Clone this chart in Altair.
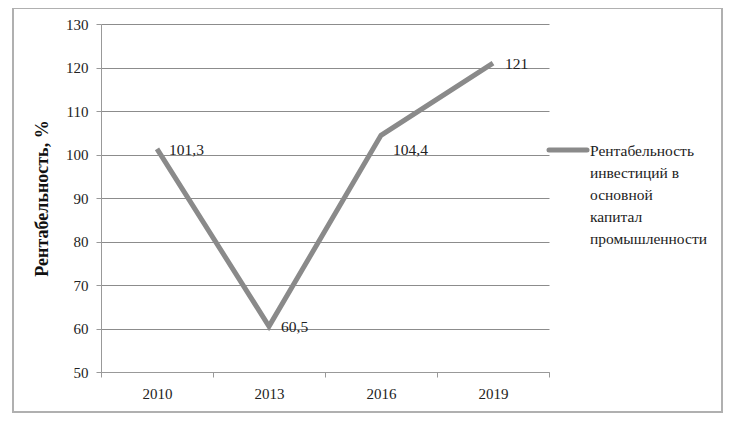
import altair as alt
import pandas as pd

years = ["2010", "2013", "2016", "2019"]
values = [101.3, 60.5, 104.4, 121.0]
labels = ["101,3", "60,5", "104,4", "121"]
series = "Рентабельность\nинвестиций в\nосновной\nкапитал\nпромышленности"

df = pd.DataFrame({"year": years, "value": values, "label": labels, "series": [series] * 4})
legend_df = pd.DataFrame({"series": [series]})

FONT = "'Liberation Serif', 'Times New Roman', serif"
GRAY = "#8a8a8a"

base = alt.Chart(df)

x = alt.X("year:N", sort=years, title=None,
          scale=alt.Scale(paddingInner=0, paddingOuter=0),
          axis=alt.Axis(labelAngle=0, tickBand="extent", labelPadding=9, tickSize=5,
                        domainColor="#999", tickColor="#999", grid=False))
y = alt.Y("value:Q", title="Рентабельность, %",
          scale=alt.Scale(domain=[50, 130], nice=False, zero=False),
          axis=alt.Axis(values=list(range(50, 131, 10)), tickSize=5, labelPadding=8,
                        titlePadding=14, titleFontWeight="bold", titleFontSize=18,
                        gridColor="#8c8c8c", domainColor="#999", tickColor="#999"))

line = base.mark_line(strokeWidth=5, strokeCap="butt", strokeJoin="miter", color=GRAY).encode(
    x=x, y=y, detail="series:N"
)

text_main = base.transform_filter(alt.datum.year != "2016").mark_text(
    align="left", baseline="middle", dx=12, dy=1, font=FONT, fontSize=15.5, color="#222"
).encode(x=alt.X("year:N", sort=years), y="value:Q", text="label:N")

text_2016 = base.transform_filter(alt.datum.year == "2016").mark_text(
    align="left", baseline="middle", dx=12, dy=15, font=FONT, fontSize=15.5, color="#222"
).encode(x=alt.X("year:N", sort=years), y="value:Q", text="label:N")

# legend (symbol + multi-line label)
leg_sym = alt.Chart(legend_df).mark_rule(strokeWidth=5, color=GRAY, strokeCap="round").encode(
    x=alt.value(448), x2=alt.value(486), y=alt.value(126)
)
leg_txt = alt.Chart(legend_df).mark_text(
    align="left", baseline="middle", lineBreak="\n", lineHeight=22,
    font=FONT, fontSize=15.5, color="#222"
).encode(x=alt.value(489), y=alt.value(127), text="series:N")

frame = alt.Chart(pd.DataFrame({"a": [0]})).mark_rect(
    filled=False, stroke="#b0b0b0", strokeWidth=2
).encode(x=alt.value(-88), x2=alt.value(621), y=alt.value(-16), y2=alt.value(388))

chart = alt.layer(frame, line, text_main, text_2016, leg_sym, leg_txt).properties(
    width=448, height=348,
    autosize=alt.AutoSizeParams(type="none"),
    padding={"left": 93, "top": 16, "right": 174, "bottom": 48},
).configure_view(stroke=None).configure_axis(
    labelFont=FONT, titleFont=FONT, labelFontSize=15, labelColor="#222", titleColor="#111"
)

chart.save("out.html", embed_options={"renderer": "svg", "actions": False})
